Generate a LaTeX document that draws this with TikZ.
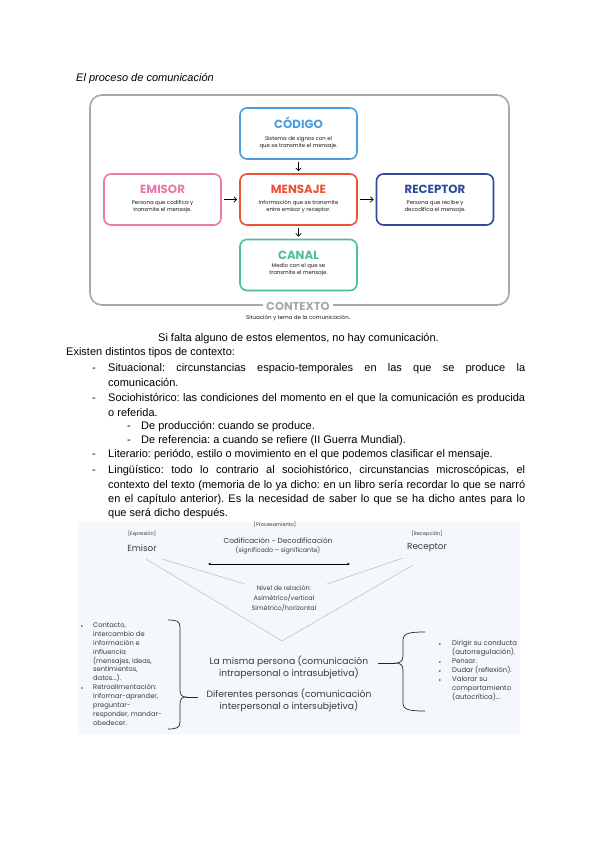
\documentclass[tikz,border=0pt]{standalone}
\usepackage{fontspec}
\setmainfont{Liberation Sans}
\newfontfamily\geo{Poppins}
\usetikzlibrary{arrows.meta}
\definecolor{cblue}{HTML}{4A9EE0}
\definecolor{cpink}{HTML}{EC77AA}
\definecolor{cred}{HTML}{EA5235}
\definecolor{cnavy}{HTML}{2E4A9A}
\definecolor{cgreen}{HTML}{4DBE95}
\definecolor{cgray}{HTML}{A8A8A8}
\definecolor{panelbg}{HTML}{F4F7FC}
\definecolor{ptext}{HTML}{3A3A3A}
\definecolor{vline}{HTML}{BBBBBB}
\frenchspacing
\begin{document}
\begin{tikzpicture}[x=1pt,y=-1pt,
  ibox/.style={draw=#1, line width=1.6pt, rounded corners=7pt, minimum width=117pt, minimum height=51pt, inner sep=0pt, fill=white},
  ititle/.style={font=\geo\bfseries\fontsize{11.8}{12}\selectfont, text=#1, inner sep=0pt},
  idesc/.style={font=\geo\fontsize{5.4}{6.8}\selectfont, align=center, inner sep=0pt, text=black!90},
  arr/.style={-{Straight Barb[length=2.8pt,width=5.5pt]}, line width=0.75pt, shorten <=2pt, shorten >=2pt},
  body/.style={anchor=base west, inner sep=0pt, font=\fontsize{11}{13}\selectfont},
  ptxt/.style={inner sep=0pt, text=ptext, align=center},
  vl/.style={draw=vline, line width=0.5pt},
  brace/.style={draw=black!85, line width=0.7pt},
]
\path[use as bounding box, fill=white] (0,0) rectangle (600,848);

% ---------- title ----------
\node[body, font=\fontsize{11}{13}\selectfont\itshape] (title) at (76,82) {El proceso de comunicación};

% ---------- infographic ----------
\node[draw=cgray, line width=1.6pt, rounded corners=12pt, minimum width=419pt, minimum height=210pt, inner sep=0pt] (outer) at (299.5,200) {};

\node[ibox=cblue]  (codigo)   at (298.5,133.5) {};
\node[ibox=cpink]  (emisor)   at (162.5,199.5) {};
\node[ibox=cred]   (mensaje)  at (298.5,199.5) {};
\node[ibox=cnavy]  (receptor) at (435,199.5) {};
\node[ibox=cgreen] (canal)    at (298.5,265) {};

\node[ititle=cblue]  (codigoT)   at ([yshift=11pt]codigo.center)   {CÓDIGO};
\node[idesc]         (codigoD)   at ([yshift=-9pt]codigo.center)   {Sistema de signos con el\\que se transmite el mensaje.};
\node[ititle=cpink]  (emisorT)   at ([yshift=10.5pt]emisor.center)   {EMISOR};
\node[idesc]         (emisorD)   at ([yshift=-7pt]emisor.center)   {Persona que codifica y\\transmite el mensaje.};
\node[ititle=cred]   (mensajeT)  at ([yshift=10.5pt]mensaje.center)  {MENSAJE};
\node[idesc]         (mensajeD)  at ([yshift=-7pt]mensaje.center)  {Información que se transmite\\entre emisor y receptor.};
\node[ititle=cnavy]  (receptorT) at ([yshift=10.5pt]receptor.center) {RECEPTOR};
\node[idesc]         (receptorD) at ([yshift=-7pt]receptor.center) {Persona que recibe y\\decodifica el mensaje.};
\node[ititle=cgreen] (canalT)    at ([yshift=10pt]canal.center)    {CANAL};
\node[idesc]         (canalD)    at ([yshift=-5pt]canal.center)    {Medio con el que se\\transmite el mensaje.};

\draw[arr] (codigo) -- (mensaje);
\draw[arr] (mensaje) -- (canal);
\draw[arr] (emisor) -- (mensaje);
\draw[arr] (mensaje) -- (receptor);

\node[fill=white, inner xsep=3pt, inner ysep=0pt, text=cgray, font=\geo\bfseries\fontsize{11.5}{12}\selectfont] (ctx) at (298,306) {CONTEXTO};
\node[idesc, font=\geo\fontsize{5.5}{6.8}\selectfont] (ctxD) at (298,318) {Situación y tema de la comunicación.};

% ---------- body text ----------
\node[body, anchor=base] (l0) at (298.5,341) {Si falta alguno de estos elementos, no hay comunicación.};
\node[body] (l1) at (66,355) {Existen distintos tipos de contexto:};
\node[body] (d1) at (92,371) {-};
\node[body] (t1) at (108,371) {\makebox[417pt][s]{Situacional: circunstancias espacio-temporales en las que se produce la}};
\node[body] (t1b) at (108,386) {comunicación.};
\node[body] (d2) at (92,401) {-};
\node[body] (t2) at (108,401) {\makebox[417pt][s]{Sociohistórico: las condiciones del momento en el que la comunicación es producida}};
\node[body] (t2b) at (108,416) {o referida.};
\node[body] (d3) at (127,429) {-};
\node[body] (t3) at (141,429) {De producción: cuando se produce.};
\node[body] (d4) at (127,443) {-};
\node[body] (t4) at (141,443) {De referencia: a cuando se refiere (II Guerra Mundial).};
\node[body] (d5) at (92,457) {-};
\node[body] (t5) at (108,457) {Literario: periódo, estilo o movimiento en el que podemos clasificar el mensaje.};
\node[body] (d6) at (92,473) {-};
\node[body] (t6) at (108,473) {\makebox[417pt][s]{Lingüístico: todo lo contrario al sociohistórico, circunstancias microscópicas, el}};
\node[body] (t6b) at (108,488) {\makebox[417pt][s]{contexto del texto (memoria de lo ya dicho: en un libro sería recordar lo que se narró}};
\node[body] (t6c) at (108,502) {\makebox[417pt][s]{en el capítulo anterior). Es la necesidad de saber lo que se ha dicho antes para lo}};
\node[body] (t6d) at (108,516) {que será dicho después.};

% ---------- bottom panel ----------
\node[fill=panelbg, minimum width=442pt, minimum height=212pt, inner sep=0pt] (panel) at (299,628) {};

\node[ptxt, font=\geo\fontsize{5}{6}\selectfont] (proc) at (275,525) {[Procesamiento]};
\node[ptxt, font=\geo\fontsize{5}{6}\selectfont] (expr) at (142,534) {[Expresión]};
\node[ptxt, font=\geo\fontsize{8.8}{10}\selectfont] (pemisor) at (142,548) {Emisor};
\node[ptxt, font=\geo\fontsize{5}{6}\selectfont] (recep) at (427,534) {[Recepción]};
\node[ptxt, font=\geo\fontsize{8.8}{10}\selectfont] (preceptor) at (427,548) {Receptor};
\node[ptxt, font=\geo\fontsize{7.3}{9}\selectfont] (codif) at (278,541) {Codificación - Decodificación};
\node[ptxt, font=\geo\fontsize{6.3}{8}\selectfont] (signif) at (278,550) {(significado – significante)};

\coordinate (dl) at (208,564);
\coordinate (dr) at (350,564);
\draw[{Stealth[length=3pt,width=2.6pt]}-{Stealth[length=3pt,width=2.6pt]}, line width=0.6pt] (dl) -- (dr);

\node[ptxt, font=\geo\fontsize{6.4}{10}\selectfont] (nivel) at (284,599) {Nivel de relación:\\Asimétrico/vertical\\Simétrico/horizontal};

\coordinate (vA) at (146,559);
\coordinate (vB) at (282,641);
\coordinate (vC) at (413,565);
\coordinate (iA) at (162,559);
\coordinate (iB) at (245,584);
\coordinate (iC) at (403,558);
\coordinate (iD) at (327,584);
\draw[vl] (vA) -- (vB) -- (vC);
\draw[vl] (iA) -- (iB);
\draw[vl] (iC) -- (iD);

\node[ptxt, font=\geo\fontsize{9.2}{12}\selectfont] (misma) at (289,667) {La misma persona (comunicación\\intrapersonal o intrasubjetiva)};
\node[ptxt, font=\geo\fontsize{9.2}{12}\selectfont] (dif) at (289,700) {Diferentes personas (comunicación\\interpersonal o intersubjetiva)};

% left brace
\draw[brace] (168,620) .. controls (176,620) and (180,621) .. (180,627) -- (180,690)
  .. controls (180,695) and (182,697) .. (186,697)
  .. controls (182,697) and (180,699) .. (180,704) -- (180,722)
  .. controls (180,728) and (176,729) .. (168,729);
\coordinate (lbT) at (186,697);
\coordinate (lbE) at (198,697);
\draw[brace] (lbT) -- (lbE);

% right brace
\draw[brace] (425,632) .. controls (410,632) and (403,633) .. (403,640) -- (403,656)
  .. controls (403,661) and (400,663) .. (396,663)
  .. controls (400,663) and (403,665) .. (403,670) -- (403,703)
  .. controls (403,710) and (410,711) .. (425,711);
\coordinate (rbT) at (396,663);
\coordinate (rbE) at (378,663);
\draw[brace] (rbT) -- (rbE);

% left bullet list
\node[ptxt, font=\geo\fontsize{6.7}{8.9}\selectfont, align=left, anchor=north west] (llist) at (93,622.5)
{Contacto,\\intercambio de\\información e\\influencia\\(mensajes, ideas,\\sentimientos,\\datos...).\\Retroalimentación:\\informar-aprender,\\preguntar-\\responder, mandar-\\obedecer.};
\node[ptxt, font=\fontsize{6}{6}\selectfont] (lb1) at (82,627) {•};
\node[ptxt, font=\fontsize{6}{6}\selectfont] (lb2) at (82,689) {•};

% right bullet list
\node[ptxt, font=\geo\fontsize{6.9}{9}\selectfont, align=left, anchor=north west] (rlist) at (452,640.5)
{Dirigir su conducta\\(autorregulación).\\Pensar.\\Dudar (reflexión).\\Valorar su\\comportamiento\\(autocrítica)...};
\node[ptxt, font=\fontsize{6}{6}\selectfont] (rb1) at (440,645) {•};
\node[ptxt, font=\fontsize{6}{6}\selectfont] (rb2) at (440,663) {•};
\node[ptxt, font=\fontsize{6}{6}\selectfont] (rb3) at (440,672) {•};
\node[ptxt, font=\fontsize{6}{6}\selectfont] (rb4) at (440,681) {•};
\end{tikzpicture}
\end{document}
